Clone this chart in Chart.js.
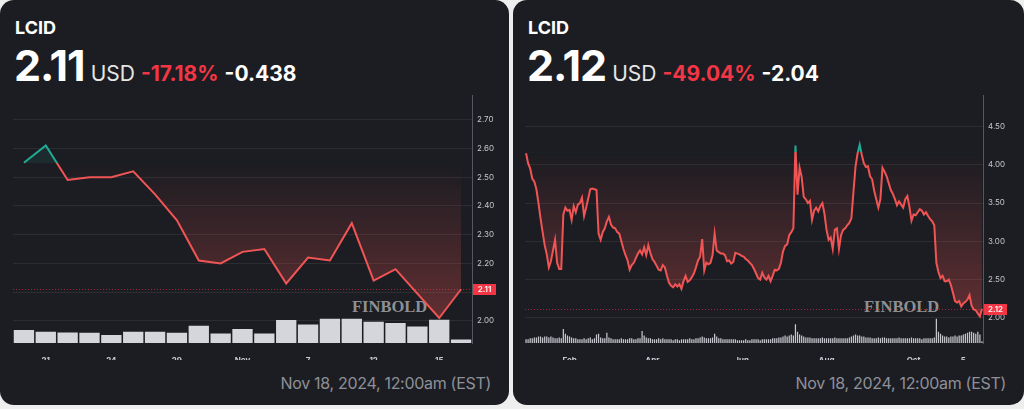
<!DOCTYPE html>
<html>
<head>
<meta charset="utf-8">
<script src="https://cdn.jsdelivr.net/npm/chart.js@4.4.1/dist/chart.umd.min.js"></script>
<style>
    html, body { margin: 0; padding: 0; width: 1024px; height: 409px; overflow: hidden; background: #eeeeef; font-family: Inter, "Noto Sans", sans-serif; }
    .card { position: absolute; top: 0; height: 405px; background: #1c1d22; border-radius: 14px; overflow: hidden; }
    .sym { position: absolute; left: 15px; top: 19px; font-size: 18px; line-height: 1; font-weight: 700; color: #fff; }
    .quote { position: absolute; left: 14px; top: 44px; display: flex; align-items: baseline; white-space: nowrap; line-height: 1; }
    .price { font-size: 43px; font-weight: 700; color: #fff; letter-spacing: -1px; }
    .unit { font-size: 21px; font-weight: 400; color: #e6e6e6; margin-left: 6px; }
    .pct { font-size: 21px; font-weight: 700; color: #f23645; margin-left: 6px; }
    .chg { font-size: 21px; font-weight: 700; color: #fff; margin-left: 6px; }
    .stamp { position: absolute; right: 18px; top: 375px; font-size: 16px; line-height: 1; color: #8e9099; letter-spacing: -0.3px; }
    .mark { position: absolute; top: 299px; font-family: "Liberation Serif", "DejaVu Serif", serif; font-weight: 700; font-size: 16.5px; line-height: 1; color: rgba(165, 166, 171, 0.85); }
    canvas { position: absolute; top: 86px; }
</style>
</head>
<body>
<div class="card" style="left:0;width:509px;">
    <div class="sym">LCID</div>
    <div class="quote"><span class="price">2.11</span><span class="unit">USD</span><span class="pct">-17.18%</span><span class="chg">-0.438</span></div>
    <div class="mark" style="left:352px;">FINBOLD</div>
    <canvas id="leftChart" width="492" height="274" style="left:13px;"></canvas>
    <div class="stamp">Nov 18, 2024, 12:00am (EST)</div>
</div>
<div class="card" style="left:513px;width:511px;">
    <div class="sym">LCID</div>
    <div class="quote"><span class="price">2.12</span><span class="unit">USD</span><span class="pct">-49.04%</span><span class="chg">-2.04</span></div>
    <div class="mark" style="left:351px;">FINBOLD</div>
    <canvas id="rightChart" width="491" height="274" style="left:12px;"></canvas>
    <div class="stamp">Nov 18, 2024, 12:00am (EST)</div>
</div>

<script>
// 1 month, daily closes
const leftClose = [2.55, 2.61, 2.49, 2.50, 2.50, 2.52, 2.44, 2.35, 2.21, 2.20, 2.24,
    2.25, 2.13, 2.22, 2.21, 2.34, 2.14, 2.18, 2.095, 2.01, 2.11];
const leftVol = [41, 35, 33, 32, 25, 35, 35, 32, 54, 30, 44, 30, 72, 58, 76, 76, 67, 63, 52, 73, 11];
const leftBase = 2.548;
const leftLast = 2.11;
const leftYTicks = [2.0, 2.1, 2.2, 2.3, 2.4, 2.5, 2.6, 2.7];
const leftXTickIdx = [1, 4, 7, 10, 13, 16, 19];
const leftXTickText = ['21', '24', '29', 'Nov', '7', '12', '15'];

// year to date, daily closes
const rightClose = [
    4.15, 4.02, 3.95, 3.82, 3.78, 3.68, 3.50, 3.30, 3.12, 2.95,
    2.83, 2.66, 2.74, 2.88, 3.02, 2.72, 2.64, 2.64, 3.35, 3.44,
    3.40, 3.41, 3.28, 3.46, 3.38, 3.48, 3.50, 3.57, 3.33, 3.44,
    3.56, 3.68, 3.69, 3.68, 3.67, 3.10, 3.02, 3.12, 3.17, 3.26,
    3.32, 3.22, 3.18, 3.17, 3.12, 3.10, 3.00, 2.90, 2.82, 2.75,
    2.63, 2.69, 2.72, 2.78, 2.84, 2.88, 2.83, 2.92, 2.82, 2.95,
    2.85, 2.77, 2.73, 2.68, 2.63, 2.62, 2.69, 2.66, 2.55, 2.46,
    2.42, 2.40, 2.44, 2.41, 2.44, 2.38, 2.48, 2.55, 2.47, 2.49,
    2.53, 2.58, 2.66, 2.75, 2.80, 3.03, 2.62, 2.72, 2.70, 2.72,
    2.82, 3.10, 2.88, 2.86, 2.84, 2.84, 2.82, 2.74, 2.75, 2.71,
    2.73, 2.85, 2.84, 2.83, 2.81, 2.80, 2.77, 2.75, 2.72, 2.69,
    2.64, 2.58, 2.52, 2.50, 2.59, 2.53, 2.50, 2.55, 2.48, 2.55,
    2.63, 2.62, 2.64, 2.72, 2.87, 2.94, 2.96, 3.08, 3.12, 3.17,
    4.25, 3.61, 3.96, 3.84, 3.58, 3.55, 3.50, 3.53, 3.28, 3.40,
    3.44, 3.39, 3.46, 3.50, 3.36, 3.15, 3.02, 3.05, 2.90, 3.15,
    3.17, 2.90, 3.08, 3.15, 3.17, 3.21, 3.24, 3.30, 3.65, 3.98,
    4.15, 4.26, 4.13, 4.02, 3.97, 3.98, 3.85, 3.81, 3.66, 3.55,
    3.44, 3.55, 3.96, 3.91, 3.85, 3.76, 3.67, 3.62, 3.55, 3.47,
    3.52, 3.48, 3.44, 3.55, 3.59, 3.45, 3.27, 3.35, 3.34, 3.38,
    3.42, 3.40, 3.35, 3.38, 3.33, 3.29, 3.26, 3.21, 2.72, 2.60,
    2.52, 2.55, 2.48, 2.48, 2.50, 2.43, 2.33, 2.22, 2.20, 2.22,
    2.15, 2.19, 2.21, 2.24, 2.30, 2.16, 2.11, 2.10, 2.06, 2.02,
    2.12
];
const rightVol = [
    4, 4, 5, 5, 6, 6, 7, 7, 6, 7,
    7, 6, 7, 6, 5, 5, 6, 5, 15, 10,
    8, 7, 6, 5, 5, 4, 4, 4, 5, 4,
    5, 6, 4, 5, 9, 10, 6, 5, 5, 11,
    6, 5, 4, 4, 4, 4, 5, 4, 4, 4,
    5, 5, 4, 4, 5, 5, 13, 8, 6, 5,
    5, 4, 4, 4, 5, 4, 5, 4, 4, 4,
    4, 3, 4, 4, 3, 4, 4, 4, 4, 5,
    4, 4, 5, 5, 6, 7, 6, 5, 5, 5,
    6, 10, 7, 5, 5, 4, 4, 4, 4, 4,
    4, 4, 3, 3, 3, 3, 4, 3, 3, 4,
    4, 4, 4, 3, 4, 4, 4, 4, 4, 5,
    5, 5, 6, 6, 7, 8, 7, 8, 9, 8,
    20, 12, 9, 8, 7, 6, 6, 6, 5, 5,
    5, 5, 5, 6, 5, 5, 5, 5, 5, 6,
    5, 5, 5, 5, 5, 5, 6, 7, 8, 9,
    8, 8, 7, 7, 6, 6, 6, 5, 5, 5,
    6, 5, 6, 6, 5, 5, 5, 5, 5, 5,
    6, 5, 5, 5, 5, 5, 6, 5, 5, 5,
    5, 4, 5, 5, 5, 5, 5, 6, 26, 12,
    10, 8, 7, 7, 6, 7, 7, 8, 7, 8,
    8, 9, 10, 11, 12, 12, 11, 10, 12, 9,
    2
];
const rightBase = 4.16;
const rightLast = 2.12;
const rightYTicks = [2.0, 2.5, 3.0, 3.5, 4.0, 4.5];
const rightXTickIdx = [21, 61, 104, 145, 187, 211];
const rightXTickText = ['Feb', 'Apr', 'Jun', 'Aug', 'Oct', '5'];

const RED = '#f05454';
const TEAL = '#22ab94';

Chart.defaults.font.family = 'Inter';

// dotted last-price line and the red tag on the price scale
const priceTag = {
    id: 'priceTag',
    beforeDatasetsDraw(chart, args, opts) {
        const { ctx, chartArea: a, scales: { y } } = chart;
        const py = Math.round(y.getPixelForValue(opts.value)) + 0.5;
        ctx.save();
        ctx.strokeStyle = 'rgba(242, 54, 69, 0.6)';
        ctx.lineWidth = 1;
        ctx.setLineDash([1, 2]);
        ctx.beginPath();
        ctx.moveTo(a.left, py);
        ctx.lineTo(a.right, py);
        ctx.stroke();
        ctx.restore();
    },
    afterDraw(chart, args, opts) {
        const { ctx, chartArea: a, scales: { y } } = chart;
        const py = Math.round(y.getPixelForValue(opts.value));
        ctx.save();
        ctx.fillStyle = '#f23645';
        ctx.fillRect(a.right + 1, py - 5, 23, 11);
        ctx.fillStyle = '#ffffff';
        ctx.font = '600 8px Inter';
        ctx.textAlign = 'center';
        ctx.textBaseline = 'middle';
        ctx.fillText(opts.value.toFixed(2), a.right + 12.5, py + 0.5);
        ctx.restore();
    }
};

function makeChart(id, closes, vols, base, last, yMin, yMax, yTicks, xIdx, xText, barColor, barPct) {
    const ctx = document.getElementById(id).getContext('2d');

    // line turns teal above the reference close, red below
    const lineColor = (c) => {
        const chart = c.chart;
        const area = chart.chartArea;
        if (!area) return RED;
        const by = chart.scales.y.getPixelForValue(base);
        const s = Math.min(Math.max((by - area.top) / (area.bottom - area.top), 0), 1);
        const g = chart.ctx.createLinearGradient(0, area.top, 0, area.bottom);
        g.addColorStop(0, TEAL);
        g.addColorStop(s, TEAL);
        g.addColorStop(s, RED);
        g.addColorStop(1, RED);
        return g;
    };

    // red shade between the line and the reference close
    const fillColor = (c) => {
        const chart = c.chart;
        const area = chart.chartArea;
        if (!area) return 'rgba(240, 84, 84, 0.2)';
        const by = chart.scales.y.getPixelForValue(base);
        const g = chart.ctx.createLinearGradient(0, by, 0, area.bottom);
        g.addColorStop(0, 'rgba(240, 84, 84, 0.0)');
        g.addColorStop(1, 'rgba(240, 84, 84, 0.38)');
        return g;
    };

    return new Chart(ctx, {
        type: 'bar',
        data: {
            labels: closes.map((_, i) => i),
            datasets: [{
                type: 'line',
                data: closes,
                yAxisID: 'y',
                borderColor: lineColor,
                backgroundColor: fillColor,
                borderWidth: 2,
                pointRadius: 0,
                tension: 0,
                fill: { target: { value: base }, above: 'rgba(34, 171, 148, 0.10)' },
                order: 1
            }, {
                type: 'bar',
                data: vols,
                yAxisID: 'v',
                backgroundColor: barColor,
                barPercentage: barPct,
                categoryPercentage: 1,
                order: 2
            }]
        },
        options: {
            responsive: false,
            animation: false,
            events: [],
            layout: { padding: 0 },
            plugins: {
                legend: { display: false },
                tooltip: { enabled: false },
                priceTag: { value: last }
            },
            scales: {
                x: {
                    type: 'category',
                    offset: true,
                    grid: { display: false },
                    border: { display: false },
                    ticks: {
                        autoSkip: false,
                        maxRotation: 0,
                        padding: 5,
                        color: '#c9ccd2',
                        font: { size: 8, weight: 'bold' },
                        callback: (v) => xText[xIdx.indexOf(v)]
                    },
                    afterBuildTicks: (axis) => { axis.ticks = xIdx.map(i => ({ value: i })); },
                    afterFit: (axis) => { axis.height = 17; }
                },
                y: {
                    type: 'linear',
                    position: 'right',
                    min: yMin,
                    max: yMax,
                    grid: { color: 'rgba(255, 255, 255, 0.07)', drawTicks: false },
                    border: { display: true, color: '#55585f' },
                    ticks: {
                        padding: 5,
                        color: '#c3c6cc',
                        font: { size: 8 },
                        callback: (v) => v.toFixed(2)
                    },
                    afterBuildTicks: (axis) => { axis.ticks = yTicks.map(v => ({ value: v })); },
                    afterFit: (axis) => { axis.width = 33; }
                },
                v: {
                    display: false,
                    min: 0,
                    max: Math.max(...vols) * 10.2
                }
            }
        },
        plugins: [priceTag]
    });
}

document.addEventListener('DOMContentLoaded', function () {
    makeChart('leftChart', leftClose, leftVol, leftBase, leftLast, 1.923, 2.783,
        leftYTicks, leftXTickIdx, leftXTickText, '#d4d6dc', 0.93);
    makeChart('rightChart', rightClose, rightVol, rightBase, rightLast, 1.673, 4.90,
        rightYTicks, rightXTickIdx, rightXTickText, '#c4c6cc', 0.6);
});
</script>
</body>
</html>
